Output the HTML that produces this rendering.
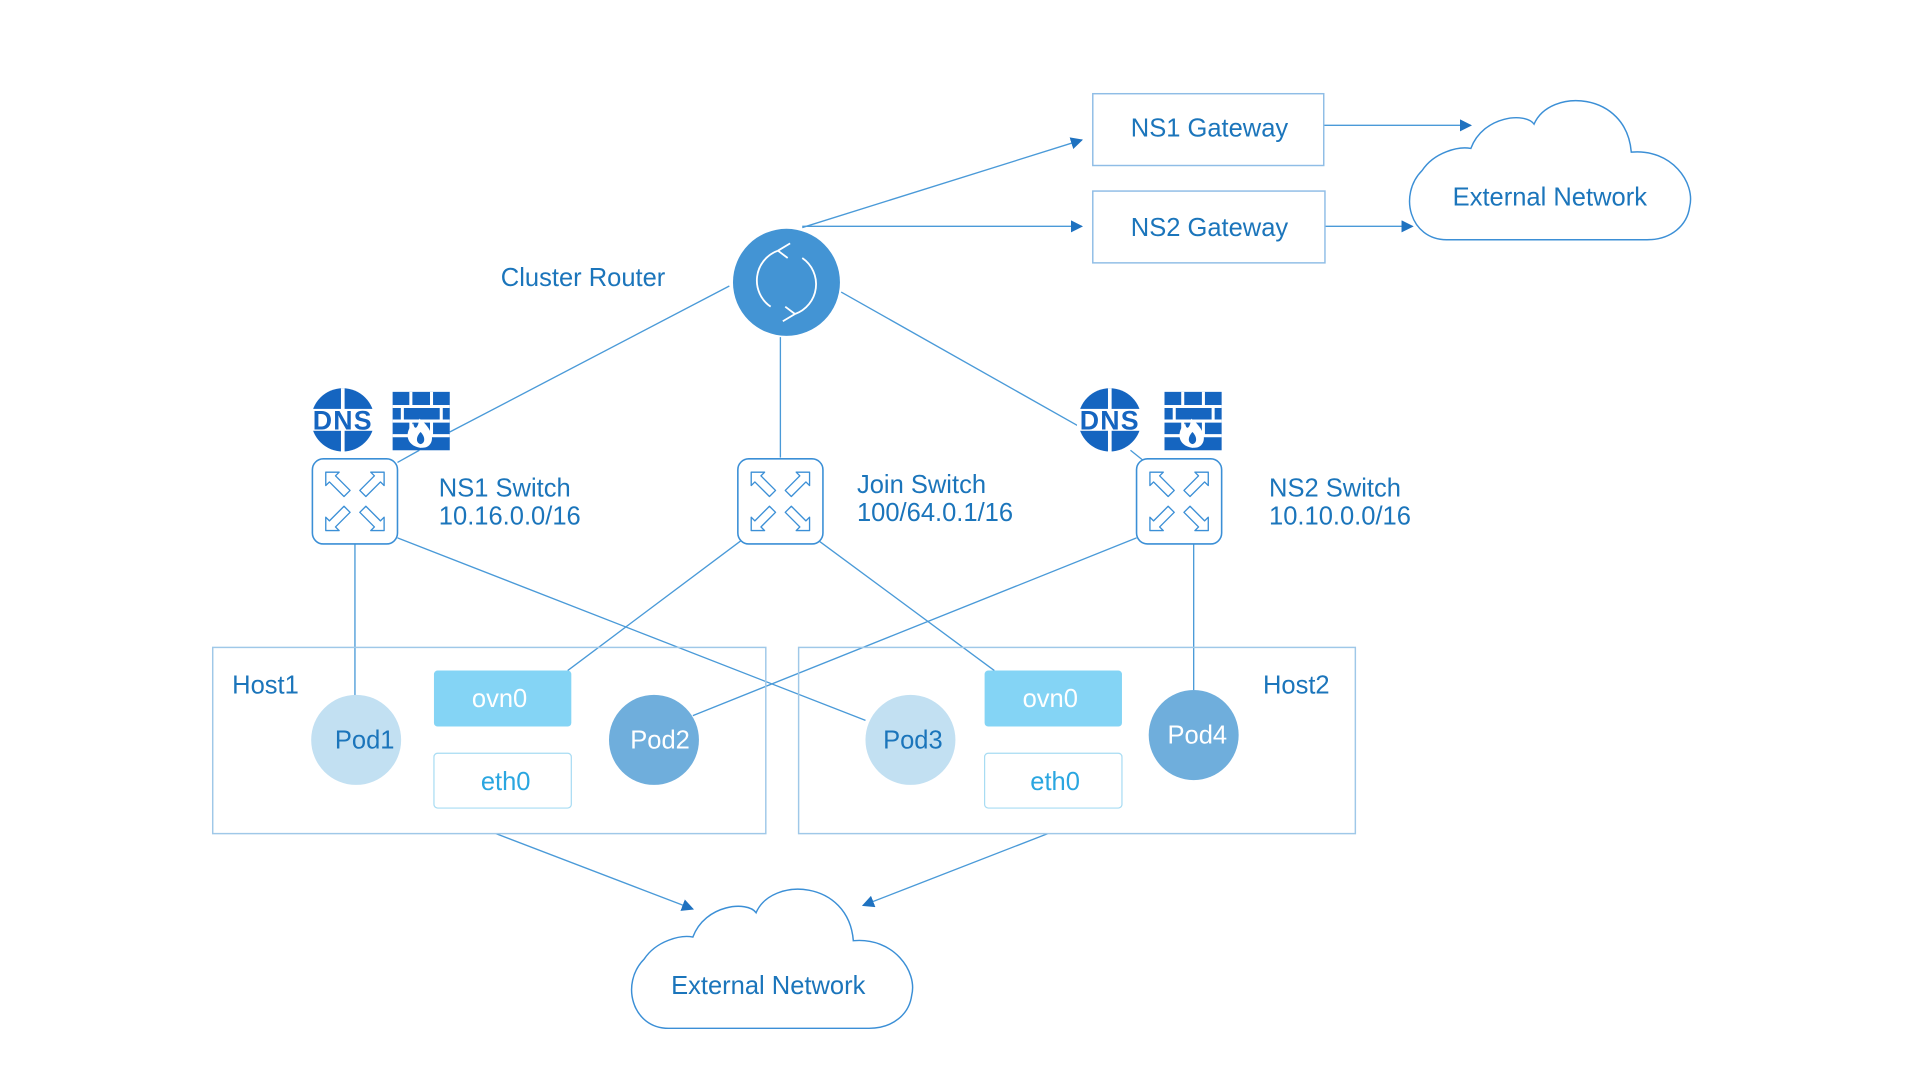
<!DOCTYPE html>
<html><head><meta charset="utf-8"><style>
html,body{margin:0;padding:0;background:#fff;}
svg{display:block;}
text{font-family:"Liberation Sans",sans-serif;}
</style></head><body>
<svg width="1906" height="1077" viewBox="0 0 1568 885" preserveAspectRatio="none" xmlns="http://www.w3.org/2000/svg">
<defs>
<marker id="a" markerWidth="10" markerHeight="10" refX="9" refY="5" orient="auto" markerUnits="userSpaceOnUse">
<path d="M0,0 L10,5 L0,10 Z" fill="#1f72c0"/></marker>
<g id="ar">
<path d="M0,0 L11,0 L8,3 L20,15 L15,20 L3,8 L0,11 Z" fill="#fff" stroke="#3b8fd6" stroke-width="1.1" stroke-linejoin="round"/>
</g>
<g id="sw">
<rect x="0" y="0" width="70" height="70" rx="9" fill="#fff" stroke="#3b8fd6" stroke-width="1.3"/>
<use href="#ar" transform="translate(11,11)"/>
<use href="#ar" transform="translate(59,11) scale(-1,1)"/>
<use href="#ar" transform="translate(11,59) scale(1,-1)"/>
<use href="#ar" transform="translate(59,59) scale(-1,-1)"/>
</g>
<g id="dns">
<circle cx="0" cy="0" r="26" fill="#1565c0"/>
<rect x="-27" y="-9" width="54" height="18" fill="#fff"/>
<path d="M-26,0 H26 M0,-26 V26" stroke="#fff" stroke-width="3"/>
<text x="0" y="8" font-size="22" font-weight="bold" fill="#1565c0" text-anchor="middle" letter-spacing="1">DNS</text>
</g>
<g id="fw">
<rect x="0" y="0" width="47" height="48" fill="#1565c0"/>
<path d="M0,12 H47 M0,24 H47 M0,36 H47 M15,0 V12 M32,0 V12 M8,12 V24 M40,12 V24 M15,24 V36 M32,24 V36" stroke="#fff" stroke-width="2.5"/>
<path d="M23,46 C10,44 10,32 17,26 C18,32 21,30 22,22 C30,28 36,38 30,44 C28,46 25,46 23,46 Z" fill="#fff"/>
<path d="M23,43 C19,42 19,37 23,33 C27,37 27,42 23,43 Z" fill="#1565c0"/>
</g>
<path id="cl" d="M1190,197 C1160,197 1150,160 1170,140 C1180,125 1200,120 1210,122 C1220,95 1255,92 1262,102 C1275,72 1338,75 1342,125 C1375,122 1395,150 1390,170 C1388,185 1375,197 1355,197 Z"/>
</defs>
<g stroke="#4a9ad8" stroke-width="1.1" fill="none">
<line x1="660" y1="187" x2="890" y2="115" marker-end="url(#a)"/>
<line x1="660" y1="186" x2="890" y2="186" marker-end="url(#a)"/>
<line x1="1089" y1="103" x2="1210" y2="103" marker-end="url(#a)"/>
<line x1="1090" y1="186" x2="1162" y2="186" marker-end="url(#a)"/>
<line x1="600" y1="235" x2="370" y2="355"/>
<line x1="345" y1="370" x2="327" y2="380"/>
<line x1="642" y1="277" x2="642" y2="376"/>
<line x1="692" y1="240" x2="887" y2="350"/>
<line x1="930" y1="370" x2="940" y2="378"/>
<line x1="292" y1="447" x2="292" y2="572"/>
<line x1="327" y1="442" x2="712" y2="592"/>
<line x1="610" y1="444" x2="467" y2="551"/>
<line x1="673" y1="444" x2="818" y2="551"/>
<line x1="935" y1="442" x2="570" y2="588"/>
<line x1="982" y1="447" x2="982" y2="567"/>
<line x1="408" y1="685" x2="570" y2="747" marker-end="url(#a)"/>
<line x1="862" y1="685" x2="710" y2="744" marker-end="url(#a)"/>
</g>
<g fill="#fff" stroke="#8fbde6" stroke-width="1.2">
<rect x="899" y="77" width="190" height="59"/>
<rect x="899" y="157" width="191" height="59"/>
<use href="#cl" stroke="#3b8fd6"/>
<use href="#cl" transform="translate(-640,648)" stroke="#3b8fd6"/>
</g>
<g fill="none" stroke="#9fc8e8" stroke-width="1.2">
<rect x="175" y="532" width="455" height="153"/>
<rect x="657" y="532" width="458" height="153"/>
</g>
<circle cx="647" cy="232" r="44" fill="#4394d4"/>
<g fill="none" stroke="#fff" stroke-width="1.5">
<path d="M634,252 A26,26 0 0 1 640,206"/>
<path d="M660,212 A26,26 0 0 1 654,258"/>
<path d="M640,206 L650,200 M640,206 L648,212"/>
<path d="M654,258 L644,264 M654,258 L646,252"/>
</g>
<use href="#sw" x="257" y="377"/>
<use href="#sw" x="607" y="377"/>
<use href="#sw" x="935" y="377"/>
<use href="#dns" x="282" y="345"/>
<use href="#fw" x="323" y="322"/>
<use href="#dns" x="913" y="345"/>
<use href="#fw" x="958" y="322"/>
<rect x="357" y="551" width="113" height="46" rx="3" fill="#84d4f5"/>
<rect x="810" y="551" width="113" height="46" rx="3" fill="#84d4f5"/>
<rect x="357" y="619" width="113" height="45" rx="3" fill="#fff" stroke="#a8dcf3"/>
<rect x="810" y="619" width="113" height="45" rx="3" fill="#fff" stroke="#a8dcf3"/>
<circle cx="293" cy="608" r="37" fill="#c2e0f2"/>
<circle cx="538" cy="608" r="37" fill="#6faedc"/>
<circle cx="749" cy="608" r="37" fill="#c2e0f2"/>
<circle cx="982" cy="604" r="37" fill="#6faedc"/>
<g font-size="21" fill="#1b75bb">
<text x="995" y="112" text-anchor="middle">NS1 Gateway</text>
<text x="995" y="194" text-anchor="middle">NS2 Gateway</text>
<text x="1275" y="169" text-anchor="middle">External Network</text>
<text x="632" y="817" text-anchor="middle">External Network</text>
<text x="412" y="235">Cluster Router</text>
<text x="361" y="408">NS1 Switch</text>
<text x="361" y="431">10.16.0.0/16</text>
<text x="705" y="405">Join Switch</text>
<text x="705" y="428">100/64.0.1/16</text>
<text x="1044" y="408">NS2 Switch</text>
<text x="1044" y="431">10.10.0.0/16</text>
<text x="191" y="570">Host1</text>
<text x="1039" y="570">Host2</text>
<text x="300" y="615" text-anchor="middle">Pod1</text>
<text x="751" y="615" text-anchor="middle">Pod3</text>
</g>
<g font-size="21" fill="#fff" text-anchor="middle">
<text x="543" y="615">Pod2</text>
<text x="985" y="611">Pod4</text>
<text x="411" y="581">ovn0</text>
<text x="864" y="581">ovn0</text>
</g>
<g font-size="21" fill="#2aa6e0" text-anchor="middle">
<text x="416" y="649">eth0</text>
<text x="868" y="649">eth0</text>
</g>
</svg>
</body></html>
